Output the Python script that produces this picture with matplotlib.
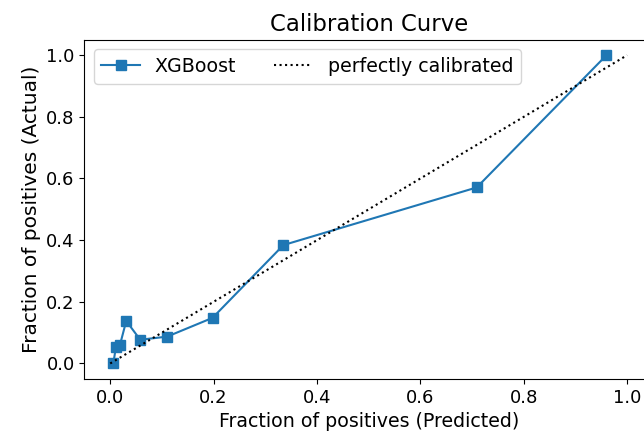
import matplotlib
matplotlib.use("Agg")
import matplotlib.pyplot as plt

# calibration points
mean_predicted = [0.006, 0.011, 0.019, 0.031, 0.058, 0.110, 0.198, 0.335, 0.709, 0.960]
fraction_actual = [0.000, 0.053, 0.061, 0.138, 0.077, 0.087, 0.148, 0.384, 0.571, 1.000]
ideal = [0, 1]

plt.rcParams['font.size'] = 13.7

fig = plt.figure(figsize=(6.44, 4.37), dpi=100)
# right edge of the axes runs past the figure, like the cropped reference
ax = fig.add_axes([0.131, 0.133, 0.883, 0.776])

ax.plot(mean_predicted, fraction_actual, 's-', color='#1f77b4', markersize=7.5,
        linewidth=1.5, label='XGBoost')
ax.plot(ideal, ideal, 'k:', linewidth=1.5, label='perfectly calibrated')

ax.set_xlim(-0.05, 1.05)
ax.set_ylim(-0.05, 1.05)
ax.set_xticks([0.0, 0.2, 0.4, 0.6, 0.8, 1.0])
ax.set_yticks([0.0, 0.2, 0.4, 0.6, 0.8, 1.0])
ax.tick_params(labelsize=13)
ax.set_xlabel('Fraction of positives (Predicted)')
ax.set_ylabel('Fraction of positives (Actual)', fontsize=14.5)
ax.set_title('Calibration Curve', fontsize=16.4)
ax.legend(loc='upper left', ncol=2)

plt.savefig('out.png', dpi=100)
